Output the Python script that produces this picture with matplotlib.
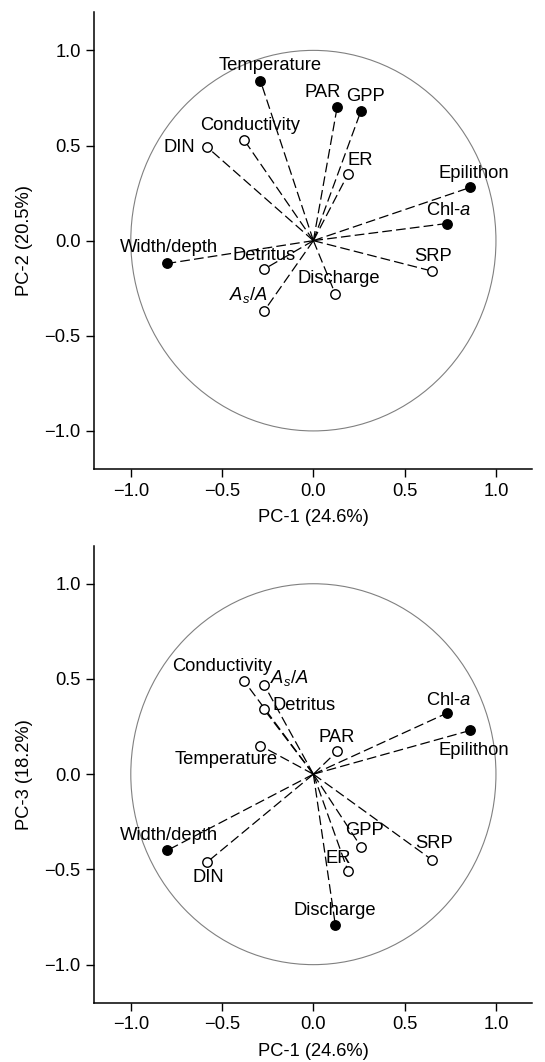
import numpy as np
import matplotlib
matplotlib.use("Agg")
import matplotlib.pyplot as plt
from matplotlib.patches import Circle

plt.rcParams["font.family"] = ["Liberation Sans", "DejaVu Sans"]
plt.rcParams["mathtext.fontset"] = "custom"
plt.rcParams["mathtext.rm"] = "Liberation Sans"
plt.rcParams["mathtext.it"] = "Liberation Sans:italic"
plt.rcParams["lines.scale_dashes"] = False

# PCA loadings
variables = ["Temperature", "PAR", "GPP", "Conductivity", "DIN", "ER",
             "Epilithon", "Chl-$a$", "Width/depth", "Detritus", "SRP",
             "Discharge", "$A_s/A$"]
pc1 = [-0.29, 0.13, 0.26, -0.38, -0.58, 0.19, 0.86, 0.73, -0.80, -0.27,
       0.65, 0.12, -0.27]
pc2 = [0.84, 0.70, 0.68, 0.53, 0.49, 0.35, 0.28, 0.09, -0.12, -0.15,
       -0.16, -0.28, -0.37]
pc3 = [0.15, 0.12, -0.38, 0.49, -0.46, -0.51, 0.23, 0.32, -0.40, 0.34,
       -0.45, -0.79, 0.47]
# filled marker = True, open = False
filled_pc2 = [True, True, True, False, False, False, True, True, True,
              False, False, False, False]
filled_pc3 = [False, False, False, False, False, False, True, True, True,
              False, False, True, False]

# label offsets (pixels) from each point
offsets_pc2 = [(10, 15), (-14, 15), (5, 15), (6, 14), (-28, 0), (12, 14),
               (3, 14), (2, 13), (2, 16), (0, 14), (1, 15), (4, 15),
               (-16, 16)]
offsets_pc3 = [(-34, -14), (0, 14), (4, 16), (-22, 14), (1, -16),
               (-10, 13), (3, -20), (2, 13), (2, 15), (40, 4), (2, 16),
               (0, 14), (25, 7)]

FS = 13.2


def biplot(ax, xs, ys, filled, offsets, ylabel):
    ax.add_patch(Circle((0, 0), 1.0, fill=False, ec="#808080", lw=0.8))
    for name, x, y, f, off in zip(variables, xs, ys, filled, offsets):
        ax.plot([0, x], [0, y], color="black", lw=0.9,
                linestyle=(0, (7, 3)), zorder=2)
        ax.plot(x, y, "o", ms=6.8, mec="black", mew=1.0,
                mfc="black" if f else "white", zorder=3)
        ax.annotate(name, (x, y), xytext=off, textcoords="offset pixels",
                    ha="center", va="center", fontsize=FS, zorder=4)
    ax.set_xlim(-1.2, 1.2)
    ax.set_ylim(-1.2, 1.2)
    ticks = [-1.0, -0.5, 0.0, 0.5, 1.0]
    ax.set_xticks(ticks)
    ax.set_yticks(ticks)
    ax.set_xticklabels([f"{t:.1f}".replace("-", "\u2212") for t in ticks])
    ax.set_yticklabels([f"{t:.1f}".replace("-", "\u2212") for t in ticks])
    ax.spines["top"].set_visible(False)
    ax.spines["right"].set_visible(False)
    for s in ("left", "bottom"):
        ax.spines[s].set_linewidth(1.1)
    ax.tick_params(length=5.8, width=1.0, pad=4, labelsize=FS)
    ax.set_xlabel("PC-1 (24.6%)", fontsize=FS, labelpad=7)
    ax.set_ylabel(ylabel, fontsize=FS, labelpad=8)


fig = plt.figure(figsize=(5.45, 10.62), dpi=100)
ax1 = fig.add_axes([0.173, 0.5584, 0.804, 0.430])
ax2 = fig.add_axes([0.173, 0.0558, 0.804, 0.4304])

biplot(ax1, pc1, pc2, filled_pc2, offsets_pc2, "PC-2 (20.5%)")
biplot(ax2, pc1, pc3, filled_pc3, offsets_pc3, "PC-3 (18.2%)")

fig.savefig("out.png", dpi=100)
